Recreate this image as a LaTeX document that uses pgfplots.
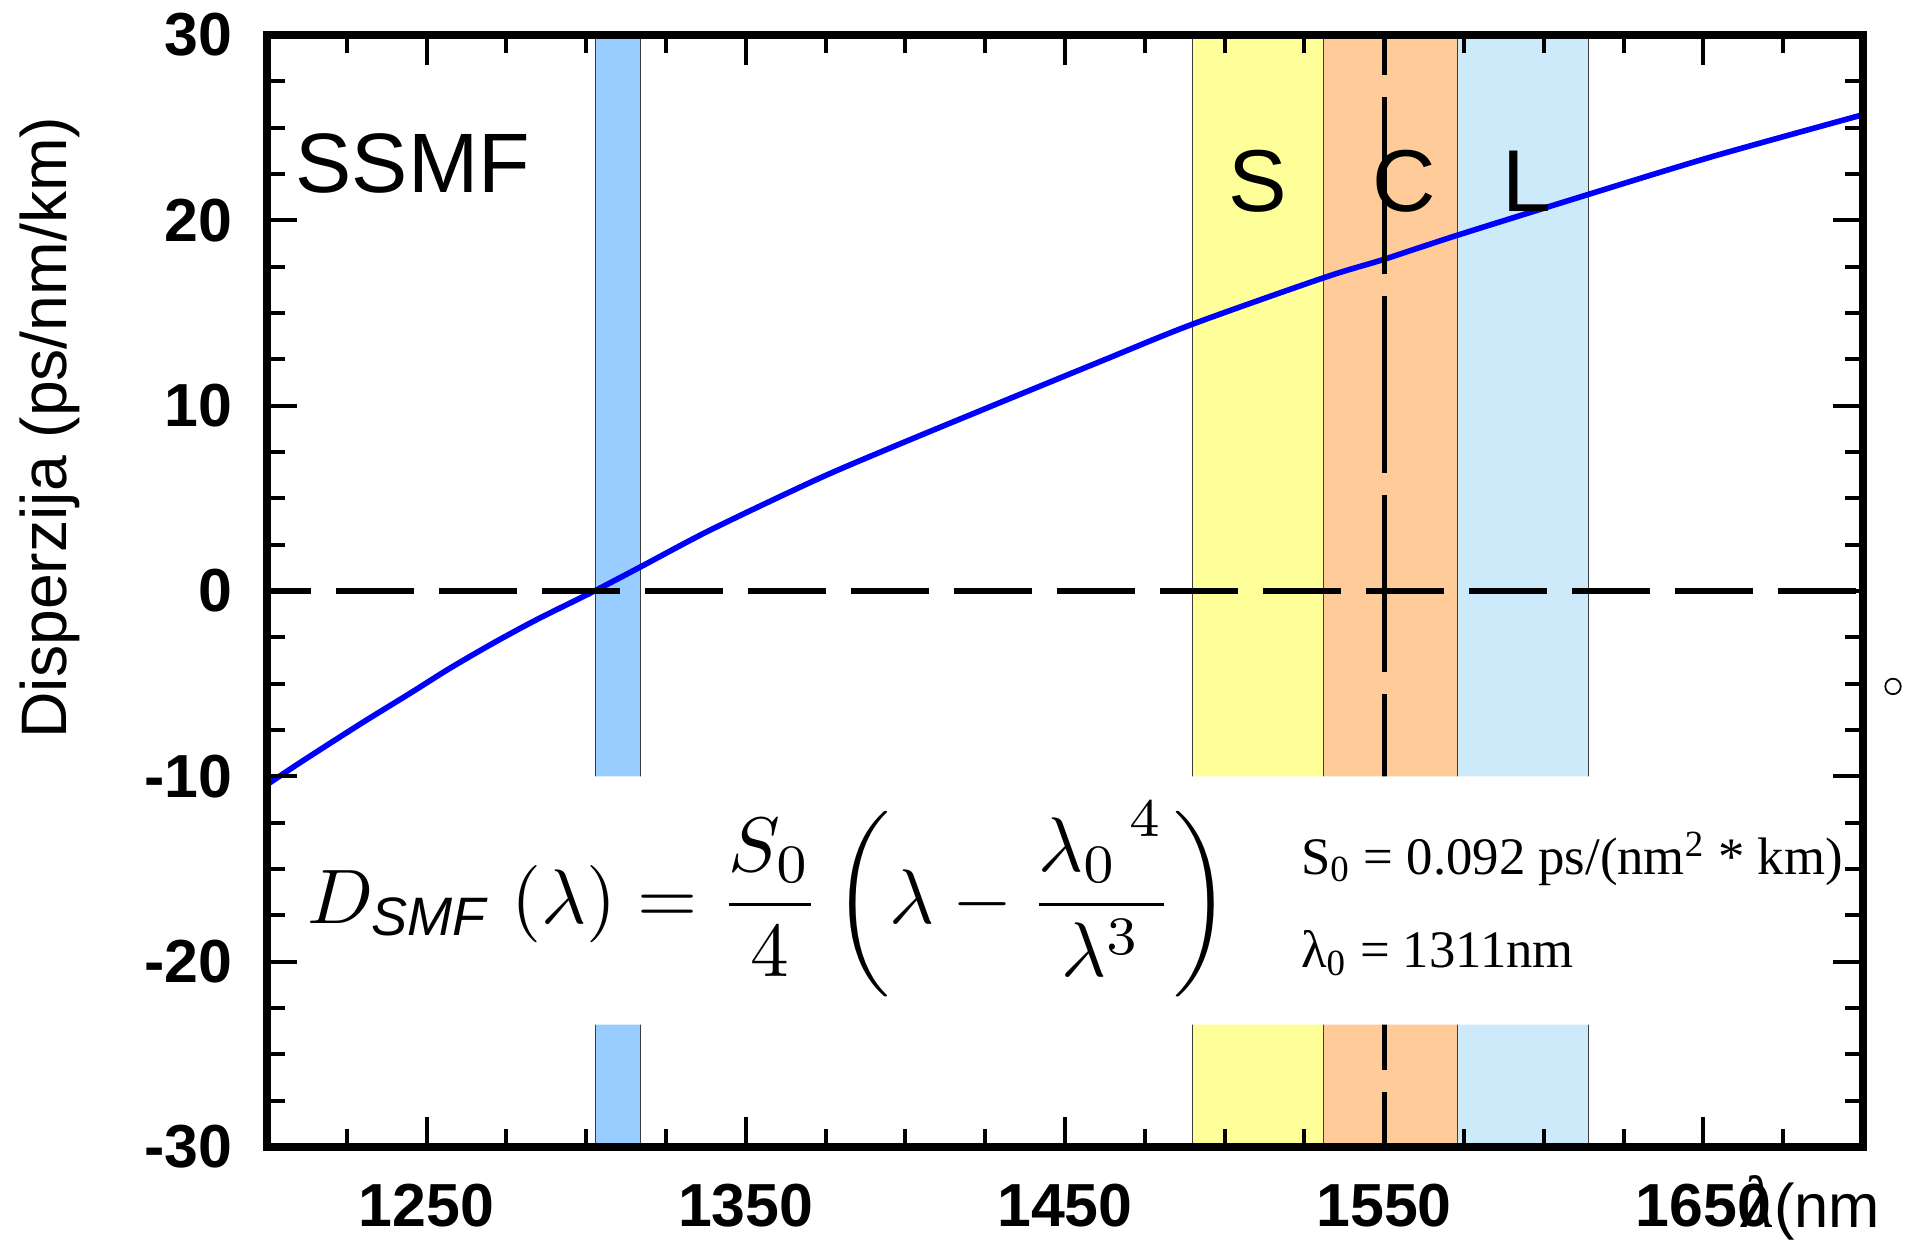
\documentclass[border=0pt]{standalone}
\usepackage{fontspec}
\setmainfont{Liberation Sans}
\newfontfamily\serif{Liberation Serif}
\usepackage{graphicx}
\usepackage{pgfplots}
\pgfplotsset{compat=1.18}

\definecolor{bandO}{RGB}{153,204,255}
\definecolor{bandS}{RGB}{255,255,153}
\definecolor{bandC}{RGB}{255,204,153}
\definecolor{bandL}{RGB}{204,234,250}
\definecolor{edge}{RGB}{60,60,60}

% dispersion curve
\pgfplotstableread{
lambda  D
1200  -10.45
1210  -9.3
1229  -7.2
1245  -5.5
1257  -4.2
1271  -2.8
1285  -1.5
1302  -0.05
1317   1.3
1339   3.3
1372   6.0
1395   7.7
1428  10.05
1462  12.45
1490  14.4
1531  16.9
1550  17.9
1573  19.2
1614  21.4
1653  23.45
1700  25.7
}\disp

\begin{document}
\begin{tikzpicture}
\path[use as bounding box] (-26.7mm,-9.2mm) rectangle (164.5mm,114.7mm);
\begin{axis}[
    at={(0,0)}, anchor=south west,
    scale only axis, width=159.6mm, height=111.2mm,
    xmin=1200, xmax=1700, ymin=-30, ymax=30,
    xtick={1250,1350,1450,1550,1650},
    xticklabels={1250,1350,1450,1550,1650},
    ytick={-30,-20,-10,0,10,20,30},
    yticklabels={-30,-20,-10,0,10,20,30},
    minor xtick={1200,1225,...,1700},
    minor ytick={-30,-27.5,...,30},
    tick label style={font=\fontsize{17.3}{20}\selectfont\bfseries},
    xticklabel style={anchor=north, inner sep=0pt, yshift=-3.6mm},
    yticklabel style={anchor=east, inner sep=0pt, xshift=-3.4mm},
    major tick length=3mm, minor tick length=1.8mm,
    every tick/.append style={line width=1.1pt, black},
    axis line style={line width=2.3pt},
    every outer x axis line/.append style={line width=2.3pt},
    every outer y axis line/.append style={line width=2.3pt},
    axis on top, clip=false,
]
% wavelength bands
\addplot[draw=edge, line width=0.4pt, fill=bandO] coordinates {(1303,-30) (1303,30) (1317,30) (1317,-30) (1303,-30)};
\addplot[draw=edge, line width=0.4pt, fill=bandS] coordinates {(1490,-30) (1490,30) (1531,30) (1531,-30) (1490,-30)};
\addplot[draw=edge, line width=0.4pt, fill=bandC] coordinates {(1531,-30) (1531,30) (1573,30) (1573,-30) (1531,-30)};
\addplot[draw=edge, line width=0.4pt, fill=bandL] coordinates {(1573,-30) (1573,30) (1614,30) (1614,-30) (1573,-30)};

\addplot[blue, line width=1.6pt, smooth] table[x=lambda, y=D] {\disp};

\addplot[black, line width=1.6pt, dash pattern=on 7.8mm off 2.5mm, dash phase=3.4mm] coordinates {(1200,0) (1700,0)};
\addplot[black, line width=1.5pt, dash pattern=on 17.7mm off 2.2mm, dash phase=13.7mm] coordinates {(1550,30) (1550,-30)};

% white panel behind the formula
\addplot[fill=white, draw=none] coordinates {(1210.3,-10) (1693.1,-10) (1693.1,-23.4) (1210.3,-23.4) (1210.3,-10)};

\addplot[only marks, mark=o, mark size=2.2pt, mark options={line width=0.5pt, black}] coordinates {(1709.4,-5.15)};

\node[anchor=base west, inner sep=0pt, font=\fontsize{24}{28}\selectfont] at (axis cs:1208.75,21.5) {SSMF};
\node[anchor=base, inner sep=0pt, font=\fontsize{25}{30}\selectfont] at (axis cs:1510.3,20.47) {S};
\node[anchor=base, inner sep=0pt, font=\fontsize{25}{30}\selectfont] at (axis cs:1556.3,20.47) {C};
\node[anchor=base, inner sep=0pt, font=\fontsize{25}{30}\selectfont] at (axis cs:1594.7,20.47) {L};

\node[rotate=90, font=\fontsize{18.3}{22}\selectfont] at (rel axis cs:-0.136,0.647) {Disperzija (ps/nm/km)};

\node at (axis cs:1357.2,-16.64) {\scalebox{2.2}{$\displaystyle D_{\mathit{SMF}}\;(\lambda) = \frac{S_0}{4}\left(\lambda - \frac{{\lambda_0}^{\,4}}{\lambda^{3}}\right)$}};

\node[anchor=base west, inner sep=0pt, font=\serif\fontsize{15}{18}\selectfont] at (axis cs:1523.75,-15.29) {S\textsubscript{0} = 0.092 ps/(nm\textsuperscript{2} * km)};
\node[anchor=base west, inner sep=0pt, font=\serif\fontsize{15}{18}\selectfont] at (axis cs:1523.75,-20.31) {λ\textsubscript{0} = 1311nm};

\node[anchor=base west, inner sep=0pt, font=\fontsize{17.5}{20}\selectfont] at (axis cs:1661.9,-34.33) {{\serif\itshape\fontsize{21}{24}\selectfont λ}(nm};
\end{axis}
\end{tikzpicture}
\end{document}
